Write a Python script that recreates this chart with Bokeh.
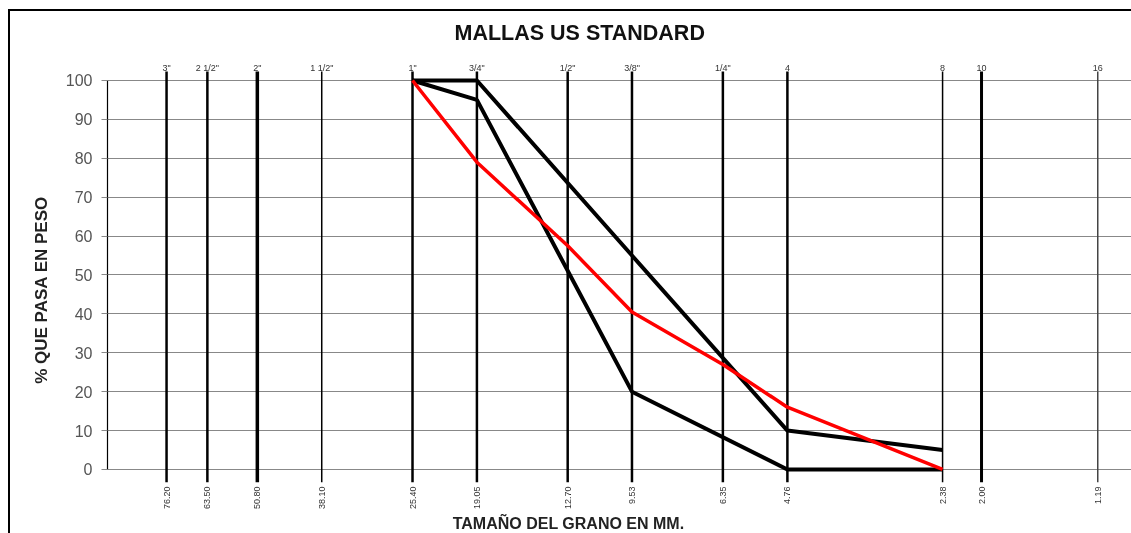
import numpy as np
from bokeh.plotting import figure
from bokeh.models import Range1d, FixedTicker, ColumnDataSource
from bokeh.core.properties import value
from bokeh.embed import file_html
from bokeh.resources import INLINE

# ---------------- data ----------------
sieve_mm = [76.20, 63.50, 50.80, 38.10, 25.40, 19.05, 12.70, 9.53, 6.35, 4.76, 2.38, 2.00, 1.19]
sieve_mm_labels = ["76.20", "63.50", "50.80", "38.10", "25.40", "19.05", "12.70",
                   "9.53", "6.35", "4.76", "2.38", "2.00", "1.19"]
sieve_us_labels = ['3"', '2 1/2"', '2"', '1 1/2"', '1"', '3/4"', '1/2"', '3/8"',
                   '1/4"', '4', '8', '10', '16']

sample_mm = [25.40, 19.05, 12.70, 9.53, 6.35, 4.76, 2.38]
sample_pass = [100, 79, 57.5, 40.5, 27, 16, 0]

upper_mm = [25.40, 19.05, 9.53, 4.76, 2.38]
upper_pass = [100, 100, 55, 10, 5]

lower_mm = [25.40, 19.05, 9.53, 4.76, 2.38]
lower_pass = [100, 95, 20, 0, 0]

y_ticks = [0, 10, 20, 30, 40, 50, 60, 70, 80, 90, 100]

# ---------------- style / layout ----------------
FONT = "Liberation Sans"
sieve_widths = [2.5, 2.5, 3.5, 1.5, 2.5, 2.5, 2.5, 2.5, 2.5, 2.5, 1.5, 3, 1.5]
sieve_colors = ["black"] * 12 + ["#444444"]
LINE_TOP, LINE_BOT = 102.3, -3.3
TOP_LABEL_Y, BOT_LABEL_Y = 103.3, -4.4

W, H = 1123, 524
p = figure(width=W, height=H,
           x_axis_type="log", x_axis_location=None,
           x_range=Range1d(99.2, 1.0144), y_range=Range1d(-16.97, 109.25),
           output_backend="svg", toolbar_location=None,
           min_border_left=97, min_border_top=33, min_border_bottom=0, min_border_right=0,
           title="MALLAS US STANDARD")
p.outline_line_color = None
p.background_fill_color = "white"
p.border_fill_color = "white"
p.styles = {"position": "fixed", "top": "9px", "left": "8px",
            "border-left": "2px solid black", "border-top": "2px solid black",
            "overflow": "hidden"}

p.title.text_font = FONT
p.title.text_font_size = "21.5px"
p.title.text_font_style = "bold"
p.title.text_color = "#111111"
p.title.align = "left"
p.title.offset = 347
p.title.standoff = 0

# y axis
ax = p.yaxis[0]
ax.ticker = FixedTicker(ticks=y_ticks)
ax.bounds = (0, 100)
ax.axis_line_color = "black"
ax.axis_line_width = 1.2
ax.major_tick_out = 6
ax.major_tick_in = 0
ax.major_tick_line_color = "#888888"
ax.minor_tick_line_color = None
ax.major_label_text_font = FONT
ax.major_label_text_font_size = "16px"
ax.major_label_text_color = "#555555"
ax.major_label_standoff = 9
ax.axis_label = "% QUE PASA EN PESO"
ax.axis_label_text_font = FONT
ax.axis_label_text_font_size = "17px"
ax.axis_label_text_font_style = "bold"
ax.axis_label_text_color = "#222222"
ax.axis_label_standoff = 12

p.ygrid.ticker = FixedTicker(ticks=y_ticks)
p.ygrid.grid_line_color = "#888888"
p.ygrid.grid_line_width = 1.2
p.xgrid.visible = False

# vertical sieve lines
src = ColumnDataSource(dict(x=sieve_mm, w=sieve_widths, c=sieve_colors,
                            top=sieve_us_labels, bot=sieve_mm_labels))
p.segment(x0="x", y0=LINE_BOT, x1="x", y1=LINE_TOP, line_width="w", line_color="c", source=src)

p.text(x="x", y=TOP_LABEL_Y, text="top", source=src, text_align="center",
       text_baseline="alphabetic", text_font=value(FONT), text_font_size="9px",
       text_color="#333333")
p.text(x="x", y=BOT_LABEL_Y, text="bot", source=src, angle=np.pi / 2,
       text_align="right", text_baseline="middle", text_font=value(FONT),
       text_font_size="9px", text_color="#333333")

# curves
p.line(upper_mm, upper_pass, line_color="black", line_width=4)
p.line(lower_mm, lower_pass, line_color="black", line_width=4)
p.line(sample_mm, sample_pass, line_color="#ff0000", line_width=3.5)

# x axis title (inside plot area)
p.text(x=[12.65], y=[-11.8], text=["TAMAÑO DEL GRANO EN MM."], text_align="center",
       text_baseline="top", text_font=value(FONT), text_font_size="16px",
       text_font_style="bold", text_color="#222222")

open("out.html", "w").write(file_html(p, INLINE))
